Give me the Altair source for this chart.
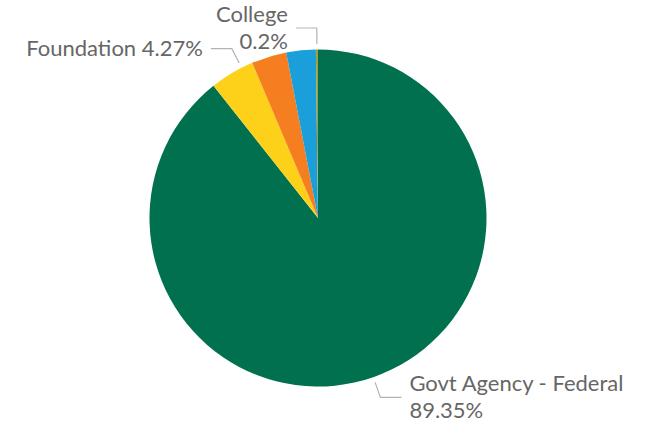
import math
import altair as alt
import pandas as pd

# ---- data ----
categories = ["Govt Agency - Federal", "Foundation", "Industry", "Govt Agency - State", "College"]
shares = [89.35, 4.27, 3.36, 2.82, 0.2]
colors = ["#00704F", "#FDD01A", "#F47E20", "#1A9FDB", "#A39E3C"]
label_text = ["Govt Agency - Federal\n89.35%", "Foundation 4.27%", None, None, "College\n0.2%"]

# ---- layout (style) ----
W, H = 649, 425
CX, CY, R = 318, 218, 168.5
R_IN, R_ELBOW, HORIZ, GAP = 174, 190, 21, 8
FONT_SIZE, LINE_H = 22, 27
# small angular nudges of leader lines to avoid label collisions (degrees)
ANGLE_NUDGE = {"Foundation": 3.7}
TEXT_COLOR = "#666666"
LINE_COLOR = "#B3B3B3"

df = pd.DataFrame({"category": categories, "share": shares, "idx": list(range(len(categories)))})

# leader lines and label anchors derived from slice mid angles
total = sum(shares)
line_rows, text_rows = [], []
cum = 0.0
for i, (cat, v) in enumerate(zip(categories, shares)):
    mid = (cum + v / 2) / total * 2 * math.pi
    cum += v
    if label_text[i] is None:
        continue
    mid += math.radians(ANGLE_NUDGE.get(cat, 0.0))
    sx, sy = math.sin(mid), -math.cos(mid)
    p1 = (CX + R_IN * sx, CY + R_IN * sy)
    p2 = (CX + R_ELBOW * sx, CY + R_ELBOW * sy)
    side = "right" if sx > 0.05 else "left"
    p3 = (p2[0] + HORIZ, p2[1]) if side == "right" else (p2[0] - HORIZ, p2[1])
    for k, p in enumerate([p1, p2, p3]):
        line_rows.append({"category": cat, "k": k, "x": p[0], "y": p[1]})
    tx = p3[0] + GAP if side == "right" else p3[0] - GAP
    n_lines = label_text[i].count("\n") + 1
    ty = p3[1] - (n_lines - 1) * LINE_H / 2
    text_rows.append({"category": cat, "label": label_text[i], "x": tx, "y": ty, "side": side})

lines_df = pd.DataFrame(line_rows)
text_df = pd.DataFrame(text_rows)

xs = alt.Scale(domain=[0, W], nice=False, zero=False)
ys = alt.Scale(domain=[H, 0], nice=False, zero=False)

pie = alt.Chart(df).mark_arc(radius=R, stroke=None).encode(
    theta=alt.Theta("share:Q", stack=True),
    order=alt.Order("idx:Q"),
    color=alt.Color("category:N", scale=alt.Scale(domain=categories, range=colors), legend=None),
    x=alt.value(CX),
    y=alt.value(CY),
)

leaders = alt.Chart(lines_df).mark_line(color=LINE_COLOR, strokeWidth=1.2).encode(
    x=alt.X("x:Q", scale=xs, axis=None),
    y=alt.Y("y:Q", scale=ys, axis=None),
    detail="category:N",
    order="k:Q",
)

def labels(side, align):
    return alt.Chart(text_df).transform_filter(alt.datum.side == side).mark_text(
        align=align, baseline="middle", lineBreak="\n", font="Lato",
        fontSize=FONT_SIZE, lineHeight=LINE_H, color=TEXT_COLOR,
    ).encode(
        x=alt.X("x:Q", scale=xs, axis=None),
        y=alt.Y("y:Q", scale=ys, axis=None),
        text="label:N",
    )

chart = alt.layer(pie, leaders, labels("left", "right"), labels("right", "left")).properties(
    width=W, height=H, padding=0, autosize=alt.AutoSizeParams(type="none"),
    background="white",
).configure_view(stroke=None)

chart.save("out.html", embed_options={"renderer": "svg", "actions": False})
